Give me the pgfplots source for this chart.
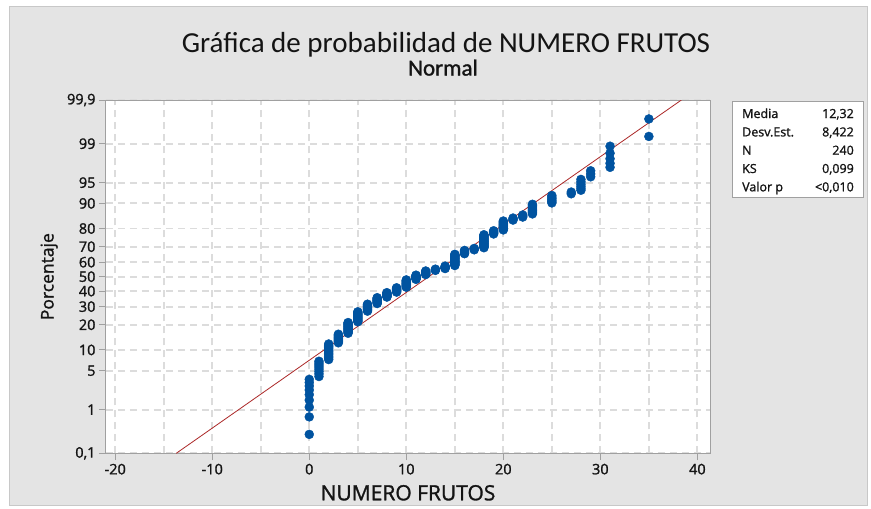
\documentclass[border=0pt]{standalone}
\usepackage{fontspec}
\setmainfont{Open Sans}
\newfontfamily\titlefont{Carlito}
\newfontfamily\subfont{Carlito}[FakeBold=1.2]
\newfontfamily\labfont{Open Sans}[FakeBold=1.3]
\usepackage{pgfplots}
\pgfplotsset{compat=1.18}
\definecolor{panel}{RGB}{228,228,228}
\definecolor{panelEdge}{RGB}{200,200,200}
\definecolor{frameGray}{RGB}{160,160,160}
\definecolor{gridGray}{RGB}{220,220,220}
\definecolor{dotBlue}{RGB}{0,83,160}
\definecolor{fitRed}{RGB}{172,40,40}
\definecolor{ink}{RGB}{20,20,20}
\begin{document}
\begin{tikzpicture}
\path[use as bounding box,fill=white] (0pt,0pt) rectangle (871pt,-509pt);
\filldraw[fill=panel,draw=panelEdge,line width=0.8pt] (9pt,-6pt) rectangle (867pt,-505pt);
% titles
\node[anchor=base,font=\titlefont\fontsize{29}{30}\selectfont,text=ink,inner sep=0pt] at (446pt,-52pt) {Gráfica de probabilidad de NUMERO FRUTOS};
\node[anchor=base,font=\subfont\fontsize{23}{24}\selectfont,text=ink,inner sep=0pt] at (443pt,-75.5pt) {Normal};
\begin{axis}[
  at={(106pt,-453.3pt)},anchor=south west,
  width=604pt,height=353.3pt,scale only axis,
  xmin=-20.95,xmax=41.3,ymin=-3.0902,ymax=3.0902,
  axis background/.style={fill=white},
  axis line style={frameGray,line width=1pt},
  xtick={-20,-10,0,10,20,30,40},
  xticklabels={-20,-10,0,10,20,30,40},
  minor xtick={-15,-5,5,15,25,35},
  ytick={-3.0902,-2.3263,-1.6449,-1.2816,-0.8416,-0.5244,-0.2533,0,0.2533,0.5244,0.8416,1.2816,1.6449,2.3263,3.0902},
  yticklabels={{0,1},1,5,10,20,30,40,50,60,70,80,90,95,99,{99,9}},
  xtick pos=left,ytick pos=left,
  tick align=outside,major tick length=7pt,minor tick length=0pt,
  tick style={frameGray,line width=1pt},
  grid=both,
  major grid style={gridGray,line width=1.8pt,dash pattern=on 7pt off 5pt},
  minor grid style={gridGray,line width=1.8pt,dash pattern=on 7pt off 5pt},
  tick label style={font=\labfont\fontsize{14.5}{15}\selectfont,text=ink},
  xlabel={NUMERO FRUTOS},
  ylabel={Porcentaje},
  xlabel style={at={(axis description cs:0.5,0)},anchor=base,yshift=-47pt,font=\labfont\fontsize{21}{22}\selectfont,text=ink},
  ylabel style={at={(axis description cs:-0.0869,0.5)},anchor=base,font=\labfont\fontsize{17.5}{19}\selectfont,text=ink},
]
\addplot[fitRed,line width=0.8pt] coordinates {(-13.71,-3.0902) (38.35,3.0902)};
\addplot[only marks,mark=*,mark size=4.5pt,color=dotBlue] coordinates {
(0,-2.759)(0,-2.453)(0,-2.282)(0,-2.160)(0,-2.063)(0,-1.983)(0,-1.913)(0,-1.852)(0,-1.797)
(1,-1.747)(1,-1.701)(1,-1.658)(1,-1.618)(1,-1.580)(1,-1.545)(1,-1.512)(1,-1.480)
(2,-1.450)(2,-1.420)(2,-1.392)(2,-1.365)(2,-1.339)(2,-1.314)(2,-1.290)(2,-1.266)(2,-1.243)(2,-1.221)(2,-1.199)(2,-1.178)
(3,-1.157)(3,-1.137)(3,-1.118)(3,-1.098)(3,-1.079)(3,-1.061)(3,-1.043)(3,-1.025)(3,-1.007)
(4,-0.990)(4,-0.973)(4,-0.957)(4,-0.940)(4,-0.924)(4,-0.908)(4,-0.893)(4,-0.877)(4,-0.862)(4,-0.847)(4,-0.832)(4,-0.818)(4,-0.803)
(5,-0.789)(5,-0.775)(5,-0.761)(5,-0.747)(5,-0.733)(5,-0.720)(5,-0.706)(5,-0.693)(5,-0.680)(5,-0.667)(5,-0.654)(5,-0.641)(5,-0.628)(5,-0.615)
(6,-0.603)(6,-0.590)(6,-0.578)(6,-0.566)(6,-0.554)(6,-0.542)(6,-0.529)(6,-0.518)(6,-0.506)(6,-0.494)(6,-0.482)
(7,-0.470)(7,-0.459)(7,-0.447)(7,-0.436)(7,-0.424)(7,-0.413)(7,-0.402)(7,-0.391)(7,-0.379)(7,-0.368)
(8,-0.357)(8,-0.346)(8,-0.335)(8,-0.324)(8,-0.313)(8,-0.302)(8,-0.291)(8,-0.280)
(9,-0.270)(9,-0.259)(9,-0.248)(9,-0.238)(9,-0.227)(9,-0.216)(9,-0.206)(9,-0.195)
(10,-0.184)(10,-0.174)(10,-0.163)(10,-0.152)(10,-0.142)(10,-0.131)(10,-0.120)(10,-0.110)(10,-0.099)(10,-0.089)(10,-0.078)(10,-0.068)(10,-0.057)
(11,-0.047)(11,-0.037)(11,-0.026)(11,-0.016)(11,-0.005)(11,0.005)(11,0.016)(11,0.026)
(12,0.037)(12,0.047)(12,0.057)(12,0.068)(12,0.078)(12,0.089)(12,0.099)
(13,0.110)(13,0.120)(13,0.131)
(14,0.142)(14,0.152)(14,0.163)(14,0.174)(14,0.184)
(15,0.195)(15,0.206)(15,0.216)(15,0.227)(15,0.238)(15,0.248)(15,0.259)(15,0.270)(15,0.280)(15,0.291)(15,0.302)(15,0.313)(15,0.324)(15,0.335)(15,0.346)(15,0.357)(15,0.368)(15,0.379)(15,0.391)
(16,0.402)(16,0.413)(16,0.424)(16,0.436)(16,0.447)(16,0.459)
(17,0.470)(17,0.482)(17,0.494)
(18,0.506)(18,0.518)(18,0.529)(18,0.542)(18,0.554)(18,0.566)(18,0.578)(18,0.590)(18,0.603)(18,0.615)(18,0.628)(18,0.641)(18,0.654)(18,0.667)(18,0.680)(18,0.693)(18,0.706)(18,0.720)(18,0.733)
(19,0.747)(19,0.761)(19,0.775)(19,0.789)(19,0.803)
(20,0.818)(20,0.832)(20,0.847)(20,0.862)(20,0.877)(20,0.893)(20,0.908)(20,0.924)(20,0.940)(20,0.957)(20,0.973)
(21,0.990)(21,1.007)(21,1.025)
(22,1.043)(22,1.061)(22,1.079)
(23,1.098)(23,1.118)(23,1.137)(23,1.157)(23,1.178)(23,1.199)(23,1.221)(23,1.243)(23,1.266)
(25,1.290)(25,1.314)(25,1.339)(25,1.365)(25,1.392)(25,1.420)
(27,1.450)(27,1.480)
(28,1.512)(28,1.545)(28,1.580)(28,1.618)(28,1.658)(28,1.701)
(29,1.747)(29,1.797)(29,1.852)
(31,1.913)(31,1.983)(31,2.063)(31,2.160)(31,2.282)
(35,2.453)(35,2.759)
};
\end{axis}
% statistics box
\filldraw[fill=white,draw=frameGray,line width=0.8pt] (732pt,-101pt) rectangle (863pt,-197pt);
\begin{scope}[every node/.style={font=\labfont\fontsize{12.5}{13}\selectfont,text=ink,inner sep=0pt}]
\node[anchor=base west] at (742pt,-118pt) {Media};
\node[anchor=base east] at (854pt,-118pt) {12,32};
\node[anchor=base west] at (742pt,-136.4pt) {Desv.Est.};
\node[anchor=base east] at (854pt,-136.4pt) {8,422};
\node[anchor=base west] at (742pt,-154.7pt) {N};
\node[anchor=base east] at (854pt,-154.7pt) {240};
\node[anchor=base west] at (742pt,-173pt) {KS};
\node[anchor=base east] at (854pt,-173pt) {0,099};
\node[anchor=base west] at (742pt,-191.3pt) {Valor p};
\node[anchor=base east] at (854pt,-191.3pt) {<0,010};
\end{scope}
\end{tikzpicture}
\end{document}
